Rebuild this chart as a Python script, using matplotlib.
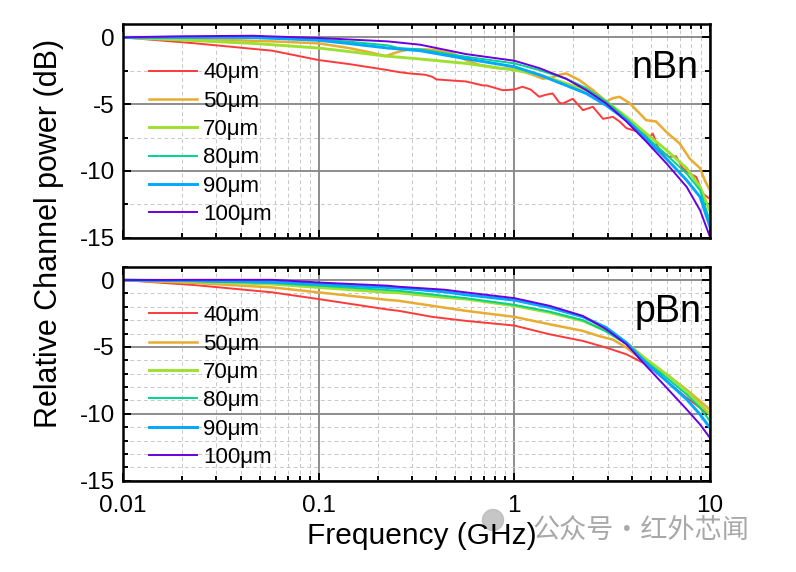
import matplotlib
matplotlib.use("Agg")
import matplotlib.pyplot as plt
from matplotlib.patches import Ellipse
from matplotlib.ticker import LogLocator, MultipleLocator, NullFormatter, FixedLocator

plt.rcParams['font.family'] = ['Liberation Sans', 'DejaVu Sans']

labels = ["40\u03bcm", "50\u03bcm", "70\u03bcm", "80\u03bcm", "90\u03bcm", "100\u03bcm"]
colors = ["#FF3A3A", "#E8AC30", "#9EE030", "#00D48A", "#00A8FF", "#6A00E0"]
widths = [1.4, 1.8, 2.1, 1.4, 2.1, 1.4]

# ---- nBn panel data ----
nbn_f_40 = [0.01, 0.0235, 0.058, 0.1, 0.143, 0.225, 0.257, 0.29, 0.35, 0.38, 0.40, 0.50, 0.565,
            0.69, 0.72, 0.87, 0.91, 1.0, 1.1, 1.21, 1.34, 1.45, 1.57, 1.7, 1.77, 1.99, 2.24, 2.52,
            2.84, 3.19, 3.45, 3.74, 4.37, 4.93, 5.1, 5.5, 6.2, 6.7, 7.25, 7.9, 8.5, 9.2, 10]
nbn_db_40 = [0, -0.45, -1.0, -1.7, -2.0, -2.45, -2.6, -2.7, -2.8, -2.95, -3.15, -3.25, -3.3,
             -3.6, -3.6, -3.95, -3.95, -3.9, -3.7, -3.9, -4.45, -4.3, -4.2, -4.9, -4.95, -4.6,
             -5.45, -5.2, -6.1, -5.95, -6.3, -6.8, -7.1, -7.45, -7.2, -8.45, -8.95, -8.9, -9.8,
             -10.2, -10.45, -11.7, -12.1]
nbn_f_50 = [0.01, 0.0235, 0.058, 0.1, 0.143, 0.18, 0.22, 0.257, 0.29, 0.35, 0.40, 0.48, 0.565,
            0.66, 0.81, 1.0, 1.24, 1.4, 1.56, 1.7, 1.84, 2.15, 2.52, 2.95, 3.2, 3.45, 3.9, 4.72,
            5.3, 6.0, 7.0, 7.9, 8.9, 9.4, 10]
nbn_db_50 = [0, -0.12, -0.3, -0.45, -0.8, -1.1, -1.4, -1.07, -0.9, -0.9, -0.95, -1.2, -1.7,
             -2.05, -2.3, -2.35, -2.8, -3.1, -3.0, -2.8, -2.7, -3.2, -3.95, -4.8, -4.55, -4.45,
             -4.95, -6.2, -6.3, -7.1, -7.95, -9.1, -9.8, -10.7, -11.45]
nbn_f_70 = [0.01, 0.02, 0.046, 0.1, 0.15, 0.22, 0.33, 0.565, 1.0, 1.34, 1.84, 2.33, 2.95, 3.74,
            4.72, 6.0, 7.6, 8.9, 10]
nbn_db_70 = [0, -0.2, -0.45, -0.8, -1.1, -1.4, -1.62, -1.95, -2.45, -2.8, -3.45, -3.95, -4.8,
             -5.95, -7.2, -8.45, -9.8, -11.2, -13.0]
nbn_f_80 = [0.01, 0.03, 0.1, 0.15, 0.225, 0.257, 0.33, 0.565, 1.0, 1.34, 1.84, 2.33, 2.95, 3.74,
            4.72, 6.0, 7.6, 8.9, 10]
nbn_db_80 = [0, 0.0, -0.15, -0.35, -0.6, -0.8, -0.9, -1.45, -1.95, -2.45, -3.1, -3.8, -4.8,
             -6.1, -7.45, -8.8, -10.2, -11.45, -13.8]
nbn_f_90 = [0.01, 0.046, 0.1, 0.14, 0.225, 0.33, 0.565, 1.0, 1.34, 1.84, 2.33, 2.95, 3.74, 4.72,
            6.0, 7.6, 8.9, 10]
nbn_db_90 = [0, 0.0, -0.22, -0.45, -0.8, -1.0, -1.6, -2.2, -2.8, -3.6, -4.2, -5.1, -6.2, -7.6,
             -9.1, -10.7, -11.95, -14.2]
nbn_f_100 = [0.01, 0.02, 0.046, 0.1, 0.225, 0.33, 0.565, 1.0, 1.34, 1.84, 2.33, 2.95, 3.74,
             4.72, 6.0, 7.6, 8.9, 10]
nbn_db_100 = [0, 0.08, 0.12, -0.05, -0.3, -0.55, -1.25, -1.75, -2.3, -3.1, -3.95, -4.95, -6.3,
              -7.8, -9.45, -11.2, -12.95, -14.95]

# ---- pBn panel data ----
pbn_f_40 = [0.01, 0.0235, 0.058, 0.1, 0.225, 0.257, 0.38, 0.565, 1.0, 1.51, 2.24, 2.95, 3.74,
            4.72, 6.0, 7.6, 8.9, 10]
pbn_db_40 = [0, -0.38, -0.92, -1.42, -2.2, -2.3, -2.75, -3.05, -3.4, -4.05, -4.55, -5.05, -5.55,
             -6.3, -7.55, -8.8, -9.55, -10.1]
pbn_f_50 = [0.01, 0.0235, 0.058, 0.1, 0.225, 0.257, 0.565, 1.0, 1.51, 2.24, 2.73, 3.19, 3.74,
            4.72, 6.0, 7.6, 8.9, 10]
pbn_db_50 = [0, -0.22, -0.55, -0.92, -1.48, -1.55, -2.3, -2.75, -3.3, -3.8, -4.2, -4.45, -5.05,
             -6.2, -7.05, -8.2, -9.05, -9.7]
pbn_f_70 = [0.01, 0.0235, 0.058, 0.1, 0.225, 0.257, 0.44, 0.565, 1.0, 1.51, 2.24, 2.95, 3.74,
            4.72, 6.0, 7.6, 8.9, 10]
pbn_db_70 = [0, -0.12, -0.3, -0.55, -0.92, -0.95, -1.3, -1.42, -1.92, -2.42, -3.05, -3.8, -4.68,
             -5.92, -7.05, -8.3, -9.3, -10.05]
pbn_f_80 = [0.01, 0.0235, 0.058, 0.1, 0.257, 0.44, 0.565, 1.0, 1.51, 2.24, 2.95, 3.74, 4.72,
            6.0, 7.6, 8.9, 10]
pbn_db_80 = [0, -0.08, -0.22, -0.42, -0.8, -1.18, -1.35, -1.85, -2.35, -3.0, -3.85, -4.8, -6.1,
             -7.3, -8.55, -9.55, -10.55]
pbn_f_90 = [0.01, 0.0235, 0.058, 0.1, 0.257, 0.44, 0.565, 1.0, 1.51, 2.24, 2.95, 3.74, 4.72,
            6.0, 7.6, 8.9, 10]
pbn_db_90 = [0, -0.05, -0.15, -0.3, -0.6, -0.88, -1.1, -1.5, -2.05, -2.75, -3.55, -4.68, -6.2,
             -7.55, -8.92, -10.05, -11.05]
pbn_f_100 = [0.01, 0.0235, 0.058, 0.1, 0.225, 0.257, 0.44, 0.565, 1.0, 1.51, 2.24, 2.95, 3.74,
             4.72, 6.0, 7.6, 8.9, 10]
pbn_db_100 = [0, 0.02, 0.02, -0.18, -0.42, -0.5, -0.72, -0.92, -1.35, -1.92, -2.68, -3.68, -4.8,
              -6.42, -8.05, -9.67, -10.8, -11.8]

nbn = [(nbn_f_40, nbn_db_40), (nbn_f_50, nbn_db_50), (nbn_f_70, nbn_db_70),
       (nbn_f_80, nbn_db_80), (nbn_f_90, nbn_db_90), (nbn_f_100, nbn_db_100)]
pbn = [(pbn_f_40, pbn_db_40), (pbn_f_50, pbn_db_50), (pbn_f_70, pbn_db_70),
       (pbn_f_80, pbn_db_80), (pbn_f_90, pbn_db_90), (pbn_f_100, pbn_db_100)]

x_ticks = [0.01, 0.1, 1, 10]
x_ticklabels = ["0.01", "0.1", "1", "10"]
y_ticks = [0, -5, -10, -15]
y_ticklabels = ["0", "-5", "-10", "-15"]

fig = plt.figure(figsize=(7.96, 5.72), dpi=100)
L, R = 123 / 796, 710 / 796
ax1 = fig.add_axes([L, 1 - 237.7 / 572, R - L, (237.7 - 24) / 572])
ax2 = fig.add_axes([L, 1 - 480.7 / 572, R - L, (480.7 - 266.7) / 572])

def style(ax, ystep_minor, show_x):
    ax.set_xscale('log')
    ax.set_xlim(0.01, 10)
    ax.set_ylim(-15, 1)
    ax.xaxis.set_major_locator(FixedLocator(x_ticks))
    ax.xaxis.set_minor_locator(LogLocator(base=10, subs=range(2, 10), numticks=20))
    ax.xaxis.set_minor_formatter(NullFormatter())
    ax.set_yticks(y_ticks)
    ax.set_yticklabels(y_ticklabels)
    ax.yaxis.set_minor_locator(MultipleLocator(ystep_minor))
    if show_x:
        ax.set_xticklabels(x_ticklabels)
    else:
        ax.set_xticklabels([])
    ax.tick_params(which='both', direction='in', top=True, right=True, width=1.4,
                   labelsize=17.5)
    ax.tick_params(axis='y', pad=6)
    ax.tick_params(axis='x', pad=10)
    ax.tick_params(which='major', length=6)
    ax.tick_params(which='minor', length=3.5)
    ax.grid(which='major', color='#858585', lw=1.3, ls='-')
    ax.grid(which='minor', color='#C8C8C8', lw=0.7, ls=(0, (4, 3)))
    ax.set_axisbelow(True)
    for s in ax.spines.values():
        s.set_linewidth(1.8)

style(ax1, 2.5, False)
style(ax2, 1.0, True)

for ax, data in ((ax1, nbn), (ax2, pbn)):
    for (f, db), lab, c, w in zip(data, labels, colors, widths):
        ax.plot(f, db, color=c, lw=w, label=lab)
    ax.legend(loc='upper left', bbox_to_anchor=(0.044, 0.82), frameon=False, fontsize=16,
              handlelength=2.15, handletextpad=0.3, labelspacing=0.33, borderpad=0,
              borderaxespad=0)

ax1.text(0.98, 0.747, "nBn", transform=ax1.transAxes, ha='right', va='baseline', fontsize=27)
ax2.text(0.986, 0.742, "pBn", transform=ax2.transAxes, ha='right', va='baseline', fontsize=27)

fig.add_artist(Ellipse((493 / 796, 1 - 520 / 572), 21 / 796, 21 / 572,
                       transform=fig.transFigure, color='#B8B8B8', alpha=0.8, zorder=0))
fig.text(49 / 796, 1 - 233 / 572, "Relative Channel power (dB)", rotation=90,
         ha='center', va='center', fontsize=22)
fig.text(422 / 796, 1 - 536 / 572, "Frequency (GHz)", ha='center', va='center', fontsize=21.5)
fig.text(533 / 796, 1 - 538 / 572, "公众号·红外芯闻", ha='left', va='baseline', fontsize=19.5,
         color='#A8A8A8', family=['Noto Sans CJK SC', 'DejaVu Sans'])

fig.savefig("out.png", dpi=100)
